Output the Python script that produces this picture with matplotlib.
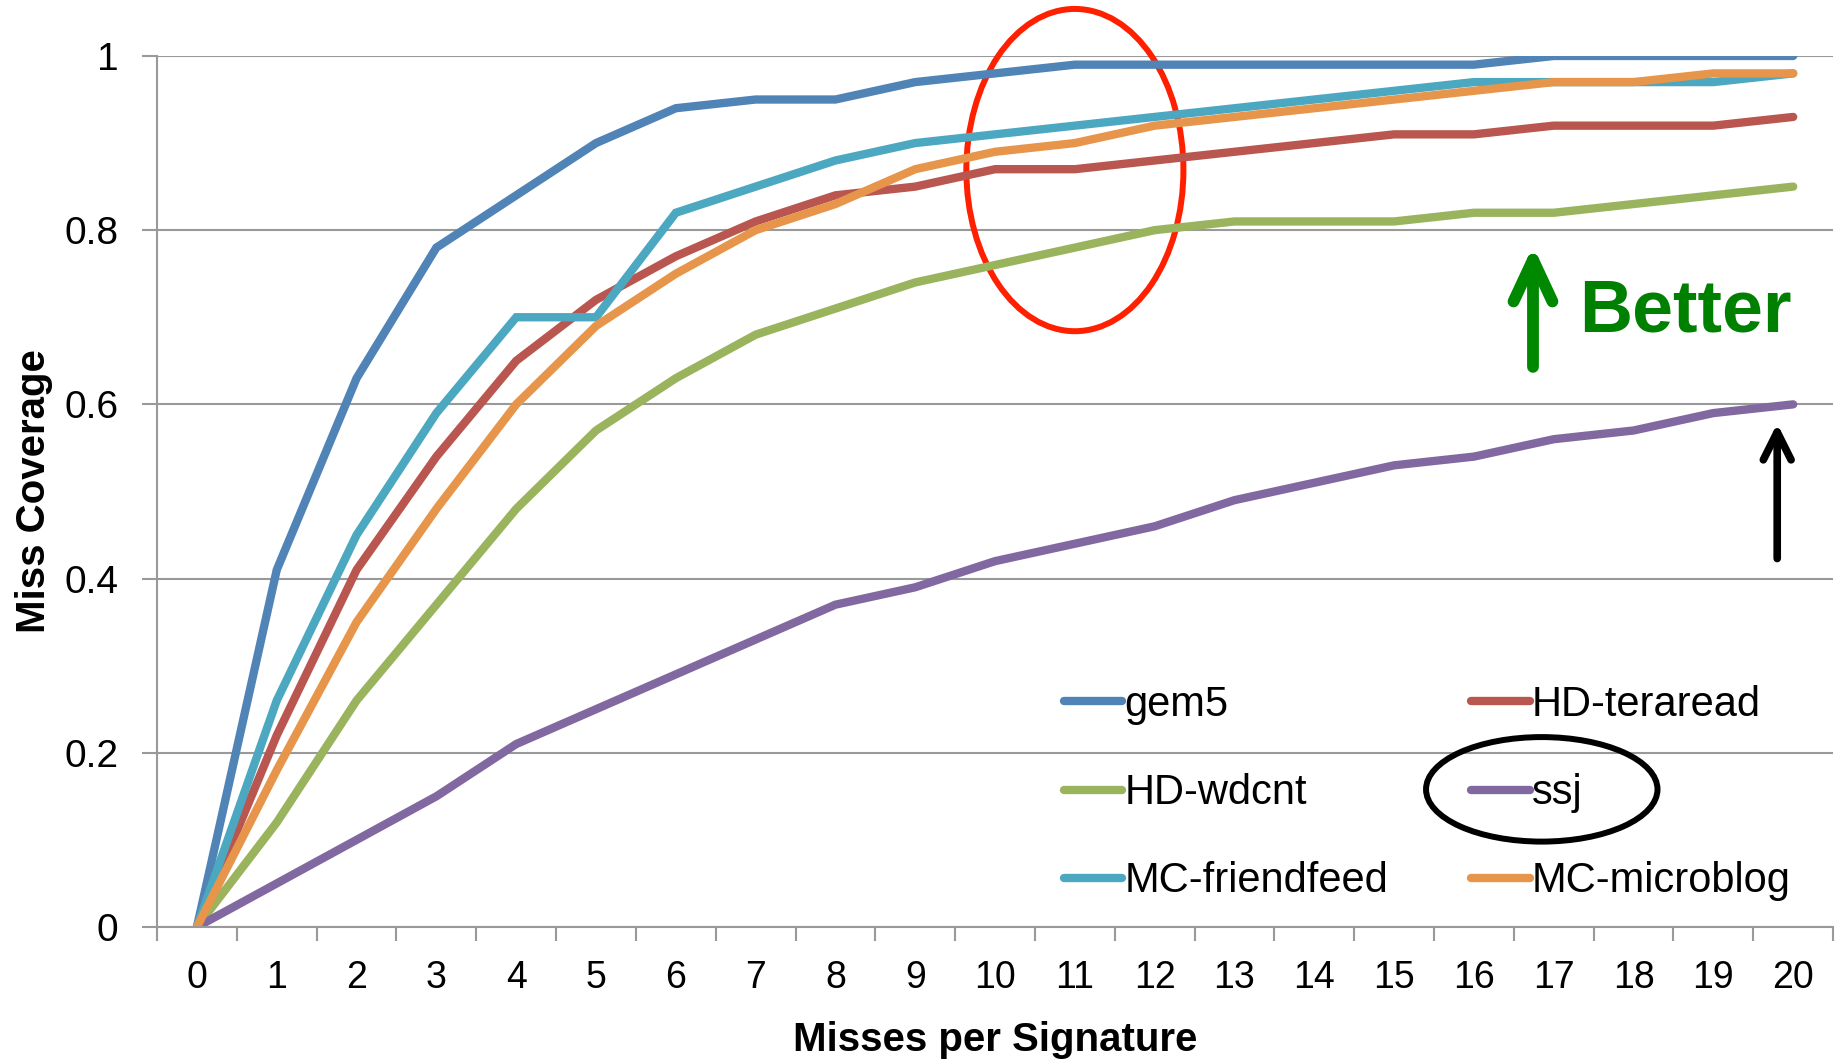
import matplotlib.pyplot as plt
from matplotlib.patches import Ellipse

plt.rcParams['font.family'] = ['Liberation Sans', 'DejaVu Sans']

misses = list(range(21))

gem5 = [0, 0.41, 0.63, 0.78, 0.84, 0.90, 0.94, 0.95, 0.95, 0.97, 0.98,
        0.99, 0.99, 0.99, 0.99, 0.99, 0.99, 1.00, 1.00, 1.00, 1.00]
hd_teraread = [0, 0.22, 0.41, 0.54, 0.65, 0.72, 0.77, 0.81, 0.84, 0.85, 0.87,
               0.87, 0.88, 0.89, 0.90, 0.91, 0.91, 0.92, 0.92, 0.92, 0.93]
hd_wdcnt = [0, 0.12, 0.26, 0.37, 0.48, 0.57, 0.63, 0.68, 0.71, 0.74, 0.76,
            0.78, 0.80, 0.81, 0.81, 0.81, 0.82, 0.82, 0.83, 0.84, 0.85]
ssj = [0, 0.05, 0.10, 0.15, 0.21, 0.25, 0.29, 0.33, 0.37, 0.39, 0.42,
       0.44, 0.46, 0.49, 0.51, 0.53, 0.54, 0.56, 0.57, 0.59, 0.60]
mc_friendfeed = [0, 0.26, 0.45, 0.59, 0.70, 0.70, 0.82, 0.85, 0.88, 0.90, 0.91,
                 0.92, 0.93, 0.94, 0.95, 0.96, 0.97, 0.97, 0.97, 0.97, 0.98]
mc_microblog = [0, 0.18, 0.35, 0.48, 0.60, 0.69, 0.75, 0.80, 0.83, 0.87, 0.89,
                0.90, 0.92, 0.93, 0.94, 0.95, 0.96, 0.97, 0.97, 0.98, 0.98]

series = [
    ('gem5', gem5, '#5083B6'),
    ('HD-teraread', hd_teraread, '#B9564F'),
    ('HD-wdcnt', hd_wdcnt, '#9AB35D'),
    ('ssj', ssj, '#8168A0'),
    ('MC-friendfeed', mc_friendfeed, '#4BA8C0'),
    ('MC-microblog', mc_microblog, '#E6954A'),
]

fig = plt.figure(figsize=(18.41, 10.64), dpi=100)
ax = fig.add_axes([0.0853, 0.1288, 0.9104, 0.8186])

lines = {}
for name, vals, color in series:
    ln, = ax.plot(misses, vals, color=color, lw=6, label=name,
                  solid_capstyle='round', solid_joinstyle='miter')
    lines[name] = ln

ax.set_xlim(-0.5, 20.5)
ax.set_ylim(0, 1)
ax.set_yticks([0, 0.2, 0.4, 0.6, 0.8, 1.0])
ax.set_yticklabels(['0', '0.2', '0.4', '0.6', '0.8', '1'])
ax.set_xticks(misses)
ax.set_xticks([i - 0.5 for i in range(22)], minor=True)
ax.tick_params(axis='x', which='major', length=0, labelsize=27, pad=24)
ax.tick_params(axis='x', which='minor', length=10, width=1.5, color='#999999')
ax.tick_params(axis='y', length=11, width=1.5, color='#999999', labelsize=28, pad=17)
ax.grid(axis='y', color='#999999', lw=1.5)
ax.set_axisbelow(True)
for s in ['top', 'right']:
    ax.spines[s].set_visible(False)
for s in ['left', 'bottom']:
    ax.spines[s].set_color('#999999')
    ax.spines[s].set_linewidth(1.5)

ax.set_xlabel('Misses per Signature', fontsize=29, fontweight='bold', labelpad=18)
ax.set_ylabel('Miss Coverage', fontsize=29, fontweight='bold', labelpad=8)

order = ['gem5', 'HD-wdcnt', 'MC-friendfeed', 'HD-teraread', 'ssj', 'MC-microblog']
ax.legend([lines[n] for n in order], order, ncol=2, frameon=False, fontsize=30,
          loc='upper left', bbox_to_anchor=(0.541, 0.278), borderpad=0,
          borderaxespad=0, handlelength=1.4, handletextpad=0.05,
          columnspacing=2.0, labelspacing=1.16)

# annotations
ax.add_patch(Ellipse((11, 0.869), 2.72, 0.37, fill=False, ec='#FF2000',
                     lw=4.3, clip_on=False))
ax.add_patch(Ellipse((16.85, 0.158), 2.9, 0.12, fill=False, ec='black',
                     lw=4.3, clip_on=False))
ax.annotate('', xy=(16.74, 0.782), xytext=(16.74, 0.643),
            arrowprops=dict(arrowstyle='->,head_length=30,head_width=14',
                            mutation_scale=1, color='#008800', lw=8.5,
                            capstyle='round', joinstyle='round',
                            shrinkA=0, shrinkB=0))
ax.annotate('', xy=(19.8, 0.578), xytext=(19.8, 0.423),
            arrowprops=dict(arrowstyle='->,head_length=20,head_width=10',
                            mutation_scale=1, color='black', lw=5.5,
                            capstyle='round', joinstyle='round',
                            shrinkA=0, shrinkB=0))
ax.text(17.32, 0.684, 'Better', fontsize=53, fontweight='bold', color='#008000',
        ha='left', va='baseline')

fig.savefig('out.png', dpi=100)
